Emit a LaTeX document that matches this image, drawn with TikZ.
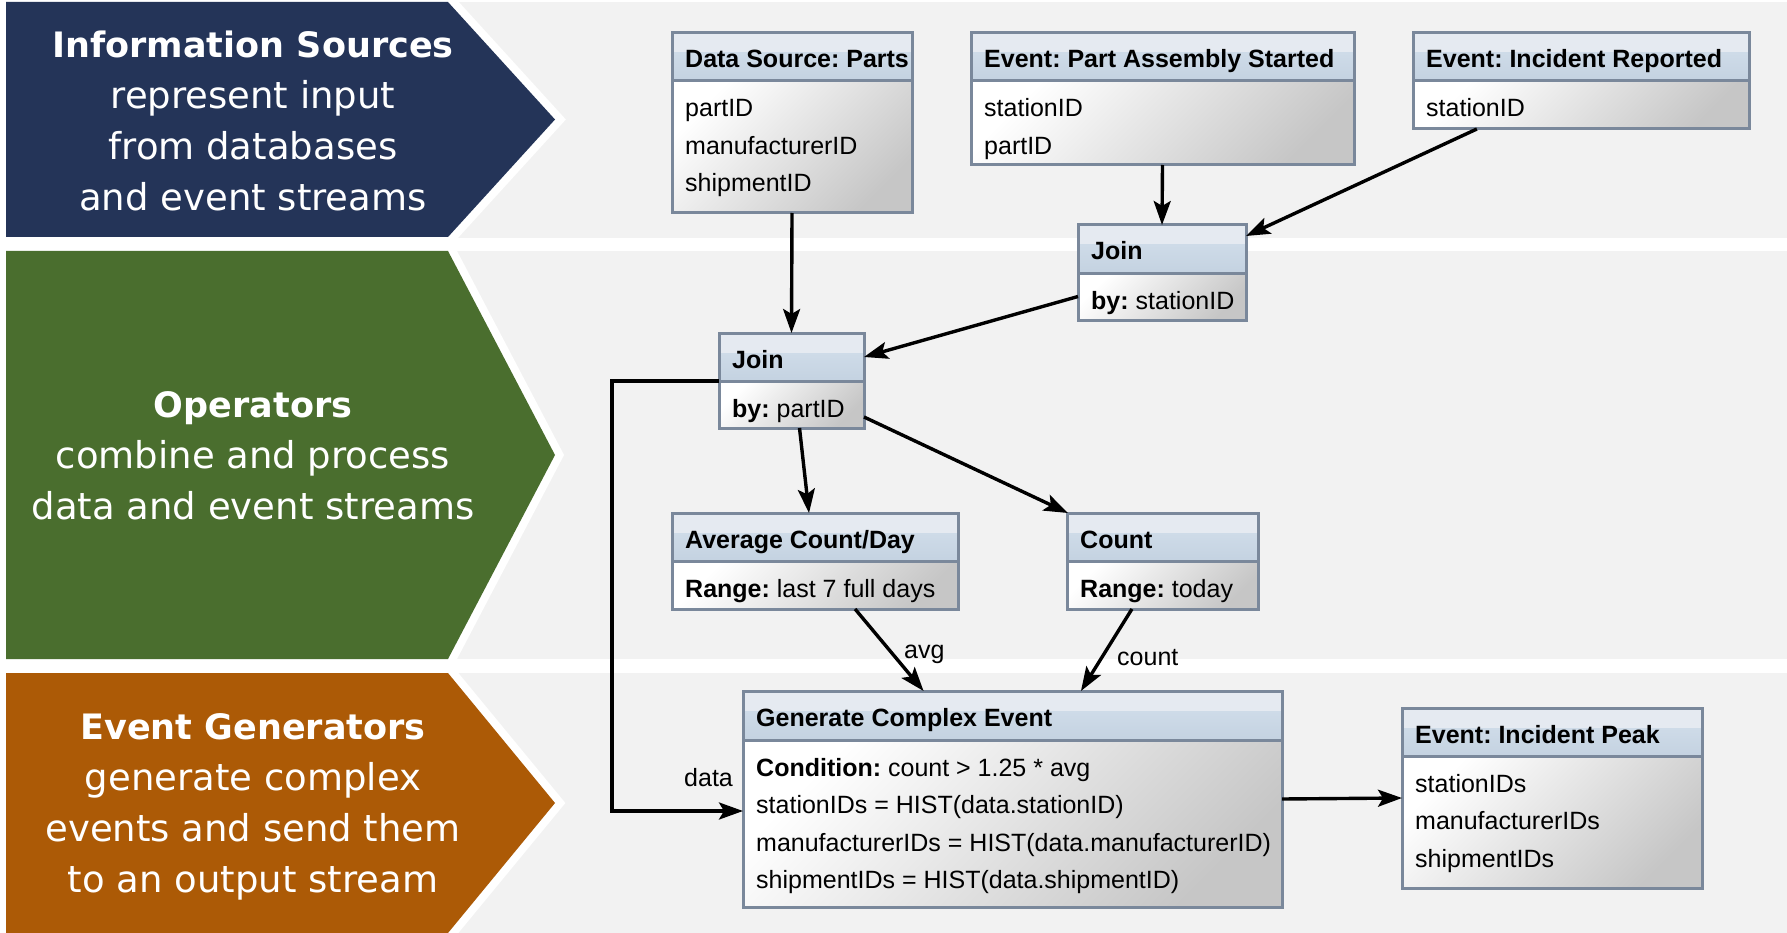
\documentclass[tikz,border=0pt]{standalone}
\usepackage{fontspec}
\setmainfont{Liberation Sans}
\newfontfamily\bandfont{DejaVu Sans}
\usetikzlibrary{arrows.meta,calc,fit}

\definecolor{bandgray}{RGB}{242,242,242}
\definecolor{navyband}{RGB}{36,52,88}
\definecolor{greenband}{RGB}{74,110,46}
\definecolor{orangeband}{RGB}{172,90,6}
\definecolor{boxedge}{RGB}{122,136,155}
\definecolor{hdrtop}{RGB}{229,234,241}
\definecolor{hdrmid}{RGB}{206,219,232}
\definecolor{hdrbot}{RGB}{196,210,225}
\definecolor{bodybot}{RGB}{198,198,198}

\tikzset{
  boxline/.style={draw=boxedge, line width=3pt},
  boxframe/.style={inner sep=0pt, outer sep=0pt, draw=none},
  titletext/.style={font=\fontsize{25}{37.5}\selectfont\frenchspacing\bfseries, inner sep=0pt},
  bodytext/.style={font=\fontsize{25}{37.5}\selectfont\frenchspacing, inner sep=0pt},
  conn/.style={line width=3.4pt, -{Stealth[length=24pt,width=17pt,inset=5pt]}},
  flowlabel/.style={font=\fontsize{25}{30}\selectfont, inner sep=0pt, anchor=base west},
  bandtext/.style={font=\bandfont\fontsize{37}{51}\selectfont, text=white, align=center, inner sep=0pt},
}

% heading line inside a band label
\newcommand\bandhead[1]{{\fontsize{35}{51}\selectfont\bfseries #1}}

% record box: name, left, top, right, divider, bottom, title, body lines
\newcommand\classbox[8]{%
  \fill[hdrtop] (#2,#3) rectangle (#4,{#3+20});
  \shade[top color=hdrmid, bottom color=hdrbot] (#2,{#3+20}) rectangle (#4,#5);
  \shade[top color=white, bottom color=bodybot, shading angle=45] (#2,#5) rectangle (#4,#6);
  \draw[boxline] (#2,#5) -- (#4,#5);
  \draw[boxline] (#2,#3) rectangle (#4,#6);
  \node[boxframe, fit={(#2,#3) (#4,#6)}] (#1) {};
  \node[boxframe, fit={(#2,#3) (#4,#5)}] (#1-h) {};
  \node[boxframe, fit={(#2,#5) (#4,#6)}] (#1-b) {};
  \node[titletext, anchor=base west] (#1-title) at ({#2+13},{#3+35}) {#7};
  \node[bodytext, anchor=base west] (#1-text) at ({#2+13},{#5+36})
    {\begin{tabular}[t]{@{}l@{}}#8\end{tabular}};
}

% arrow-shaped band label: colour, top, bottom
\newcommand\chevronband[3]{%
  \filldraw[white, line width=16pt, line join=miter]
    (6,#2) -- (448,#2) -- (555,{(#2+#3)/2}) -- (448,#3) -- (6,#3) -- cycle;
  \fill[#1] (6,#2) -- (448,#2) -- (555,{(#2+#3)/2}) -- (448,#3) -- (6,#3) -- cycle;
}

\begin{document}
\begin{tikzpicture}[x=1pt, y=-1pt]
\useasboundingbox (0,0) rectangle (1787,933);
\fill[white] (0,0) rectangle (1787,933);

% background bands
\fill[bandgray] (0,2) rectangle (1787,238);
\fill[bandgray] (0,251) rectangle (1787,659);
\fill[bandgray] (0,673) rectangle (1787,933);

% band labels
\chevronband{navyband}{2}{237}
\chevronband{greenband}{251}{659}
\chevronband{orangeband}{673}{933}

\node[bandtext] (srcband) at (253,121)
  {\bandhead{Information Sources}\\represent input\\from databases\\and event streams};
\node[bandtext] (opband) at (253,456)
  {\bandhead{Operators}\\combine and process\\data and event streams};
\node[bandtext] (genband) at (253,807)
  {\bandhead{Event Generators}\\generate complex\\events and send them\\to an output stream};

% sources
\classbox{ds}{672}{33}{912}{81}{213}{Data Source: Parts}{partID\\manufacturerID\\shipmentID}
\classbox{pa}{971}{33}{1354}{81}{165}{Event: Part Assembly Started}{stationID\\partID}
\classbox{ir}{1413}{33}{1749}{81}{129}{Event: Incident Reported}{stationID}

% operators
\classbox{js}{1078}{225}{1246}{273}{320}{Join}{\textbf{by:} stationID}
\classbox{jp}{719}{333}{864}{381}{428}{Join}{\textbf{by:} partID}
\classbox{av}{672}{513}{958}{561}{609}{Average Count/Day}{\textbf{Range:} last 7 full days}
\classbox{ct}{1067}{513}{1258}{561}{609}{Count}{\textbf{Range:} today}

% generators
\classbox{gc}{743}{691}{1282}{740}{907}{Generate Complex Event}{\textbf{Condition:} count > 1.25 * avg\\stationIDs = HIST(data.stationID)\\manufacturerIDs = HIST(data.manufacturerID)\\shipmentIDs = HIST(data.shipmentID)}
\classbox{ip}{1402}{708}{1702}{756}{888}{Event: Incident Peak}{stationIDs\\manufacturerIDs\\shipmentIDs}

% connectors
\draw[conn] (ds.south) -- (jp.north);
\draw[conn] (pa.south) -- (js.north);
\draw[conn] ($(ir.south west)!0.19!(ir.south east)$) -- ($(js.north east)+(0,11)$);
\draw[conn] (js-b.west) -- (jp-h.east);
\draw[conn] ($(jp.south)+(8,0)$) -- ($(av.north)+(-6,0)$);
\draw[conn] ($(jp.south east)+(0,-11)$) -- ($(ct.north west)+(1,0)$);
\draw[conn] ($(av.south west)!0.64!(av.south east)$) -- ($(gc.north west)!0.335!(gc.north east)$);
\draw[conn] ($(ct.south west)!0.34!(ct.south east)$) -- ($(gc.north west)!0.627!(gc.north east)$);
\coordinate (dataturn) at (612,811);
\draw[conn] (jp-h.south west) -| (dataturn) -- ($(gc.west)+(0,12)$);
\draw[conn] (gc.east) -- (ip.west);

% connector labels
\node[flowlabel] (avglabel) at (904,658) {avg};
\node[flowlabel] (countlabel) at (1117,665) {count};
\node[flowlabel] (datalabel) at (684,786) {data};
\end{tikzpicture}
\end{document}
